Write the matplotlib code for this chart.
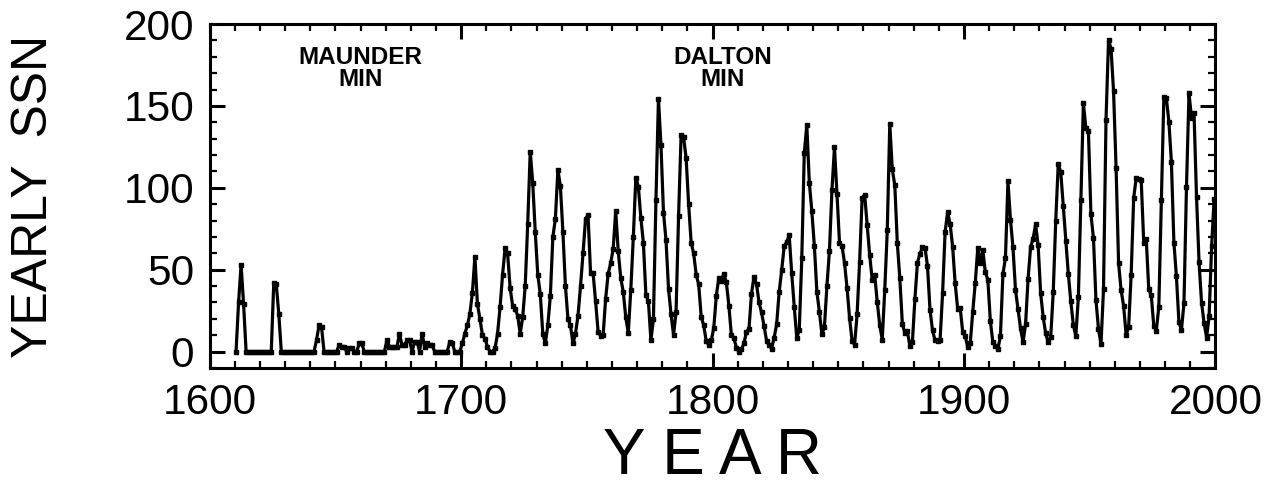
import numpy as np
import matplotlib
matplotlib.use('Agg')
import matplotlib.pyplot as plt
from matplotlib.ticker import MultipleLocator

# yearly sunspot number, 1610-1699
years_early = np.arange(1610, 1700)
ssn_early = [
    0, 30, 53, 29, 0, 0, 0, 0, 0, 0,
    0, 0, 0, 0, 0, 42, 41, 23, 0, 0,
    0, 0, 0, 0, 0, 0, 0, 0, 0, 0,
    0, 0, 7, 16, 15, 0, 0, 0, 0, 0,
    0, 4, 3, 3, 0, 2, 2, 0, 0, 5,
    5, 0, 0, 0, 0, 0, 0, 0, 0, 0,
    7, 3, 3, 3, 3, 11, 4, 4, 7, 7,
    0, 6, 6, 0, 11, 3, 5, 4, 4, 0,
    0, 0, 0, 0, 0, 6, 5, 0, 0, 0,
]

# yearly sunspot number, 1700-1999
years_late = np.arange(1700, 2000)
ssn_late = [
    5.0, 11.0, 16.0, 23.0, 36.0, 58.0, 29.0, 20.0, 10.0, 8.0,
    3.0, 0.0, 0.0, 2.0, 11.0, 27.0, 47.0, 63.0, 60.0, 39.0,
    28.0, 26.0, 22.0, 11.0, 21.0, 40.0, 78.0, 122.0, 103.0, 73.0,
    47.0, 35.0, 11.0, 5.0, 16.0, 34.0, 70.0, 81.0, 111.0, 101.0,
    73.0, 40.0, 20.0, 16.0, 5.0, 11.0, 22.0, 40.0, 60.0, 80.9,
    83.4, 47.7, 47.8, 30.7, 12.2, 9.6, 10.2, 32.4, 47.6, 54.0,
    62.9, 85.9, 61.2, 45.1, 36.4, 20.9, 11.4, 37.8, 69.8, 106.1,
    100.8, 81.6, 66.5, 34.8, 30.6, 7.0, 19.8, 92.5, 154.4, 125.9,
    84.8, 68.1, 38.5, 22.8, 10.2, 24.1, 82.9, 132.0, 130.9, 118.1,
    89.9, 66.6, 60.0, 46.9, 41.0, 21.3, 16.0, 6.4, 4.1, 6.8,
    14.5, 34.0, 45.0, 43.1, 47.5, 42.2, 28.1, 10.1, 8.1, 2.5,
    0.0, 1.4, 5.0, 12.2, 13.9, 35.4, 45.8, 41.1, 30.1, 23.9,
    15.6, 6.6, 4.0, 1.8, 8.5, 16.6, 36.3, 49.6, 64.2, 67.0,
    70.9, 47.8, 27.5, 8.5, 13.2, 56.9, 121.5, 138.3, 103.2, 85.7,
    64.6, 36.7, 24.2, 10.7, 15.0, 40.1, 61.5, 98.5, 124.7, 96.3,
    66.6, 64.5, 54.1, 39.0, 20.6, 6.7, 4.3, 22.7, 54.8, 93.8,
    95.8, 77.2, 59.1, 44.0, 47.0, 30.5, 16.3, 7.3, 37.6, 74.0,
    139.0, 111.2, 101.6, 66.2, 44.7, 17.0, 11.3, 12.4, 3.4, 6.0,
    32.3, 54.3, 59.7, 63.7, 63.5, 52.2, 25.4, 13.1, 6.8, 6.3,
    7.1, 35.6, 73.0, 85.1, 78.0, 64.0, 41.8, 26.2, 26.7, 12.1,
    9.5, 2.7, 5.0, 24.4, 42.0, 63.5, 53.8, 62.0, 48.5, 43.9,
    18.6, 5.7, 3.6, 1.4, 9.6, 47.4, 57.1, 103.9, 80.6, 63.6,
    37.6, 26.1, 14.2, 5.8, 16.7, 44.3, 63.9, 69.0, 77.8, 64.9,
    35.7, 21.2, 11.1, 5.7, 8.7, 36.1, 79.7, 114.4, 109.6, 88.8,
    67.8, 47.5, 30.6, 16.3, 9.6, 33.2, 92.6, 151.6, 136.3, 134.7,
    83.9, 69.4, 31.5, 13.9, 4.4, 38.0, 141.7, 190.2, 184.8, 159.0,
    112.3, 53.9, 37.6, 27.9, 10.2, 15.1, 47.0, 93.8, 105.9, 105.5,
    104.5, 66.6, 68.9, 38.0, 34.5, 15.5, 12.6, 27.5, 92.5, 155.4,
    154.6, 140.4, 115.9, 66.6, 45.9, 17.9, 13.4, 29.4, 100.2, 157.6,
    142.6, 145.7, 94.3, 54.6, 29.9, 17.5, 8.6, 21.5, 64.3, 93.3,
]

labels = ['MAUNDER\nMIN', 'DALTON\nMIN']
label_x = [1660, 1804]
label_y = [173, 173]

plt.rcParams['font.family'] = ['Liberation Sans', 'DejaVu Sans']

years = np.concatenate([years_early, years_late]) + 0.5   # mid-year
ssn = np.concatenate([ssn_early, ssn_late])

fig = plt.figure(figsize=(12.76, 4.82), dpi=100)
ax = fig.add_axes([0.1643, 0.2365, 0.7882, 0.7137])

ax.plot(years, ssn, color='black', linewidth=2.3, marker='s', markersize=3.3)

for txt, x, y in zip(labels, label_x, label_y):
    ax.text(x, y, txt, ha='center', va='center', fontsize=17.5, fontweight='bold',
            linespacing=0.92)

ax.set_xlim(1600, 2000)
ax.set_ylim(-10, 200)
ax.xaxis.set_major_locator(MultipleLocator(100))
ax.xaxis.set_minor_locator(MultipleLocator(10))
ax.yaxis.set_major_locator(MultipleLocator(50))
ax.yaxis.set_minor_locator(MultipleLocator(10))

ax.tick_params(which='both', direction='in', top=True, right=True)
ax.tick_params(which='major', length=10.5, width=2.2, labelsize=30.5, pad=11)
ax.tick_params(which='minor', length=5, width=1.6)
for s in ax.spines.values():
    s.set_linewidth(2.2)

ax.set_ylabel('YEARLY  SSN', fontsize=36, labelpad=48)
ax.set_xlabel('Y E A R', fontsize=46, labelpad=3)

plt.savefig('out.png', dpi=100)
